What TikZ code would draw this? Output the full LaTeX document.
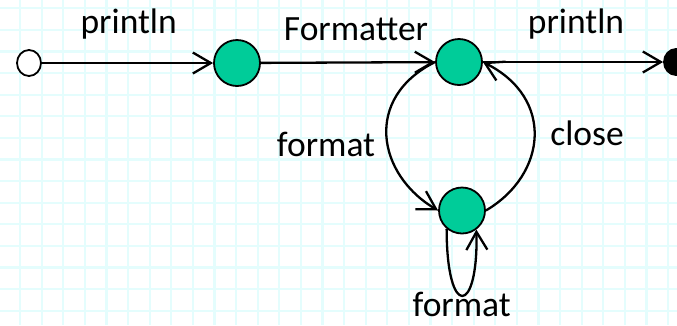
\documentclass[tikz,border=0pt]{standalone}
\usepackage{fontspec}
\setmainfont{Carlito}
\usetikzlibrary{arrows.meta,shapes.geometric}
\definecolor{gridcyan}{RGB}{228,253,253}
\definecolor{statefill}{RGB}{0,204,153}
\begin{document}
\begin{tikzpicture}[x=1pt,y=-1pt,
  gridline/.style={draw=gridcyan,line width=2.2pt},
  state/.style={circle,draw=black,line width=1.8pt,fill=statefill,
    minimum size=46pt,inner sep=0pt},
  terminal/.style={ellipse,draw=black,line width=1.8pt,
    minimum width=24pt,minimum height=26pt,inner sep=0pt},
  trans/.style={line width=2.3pt,-{Straight Barb[length=18pt,width=21pt]}},
  lbl/.style={anchor=base,inner sep=0pt,font=\fontsize{35.5}{42}\selectfont}]
  \useasboundingbox (0,0) rectangle (677,325);
  \begin{scope}
    \clip (0,0) rectangle (677,325);
    \fill[white] (0,0) rectangle (677,325);
    % background grid
    \foreach \gx in {-1.6,20.0,...,690} \draw[gridline] (\gx,0) -- (\gx,325);
    \foreach \gy in {8.3,29.9,...,330} \draw[gridline] (0,\gy) -- (677,\gy);

    % states
    \node[terminal,fill=white] (s) at (29,63) {};
    \node[state] (a) at (237,63) {};
    \node[state] (b) at (459,62) {};
    \node[state] (c) at (462,210.5) {};
    \node[terminal,fill=black] (e) at (676,62) {};

    % transitions
    \draw[trans] (s) -- (a);
    \draw[trans] (a) -- (b);
    \draw[trans] (b) -- (e);
    \draw[trans] (b.west) .. controls +(-72,36) and +(-61,-36) .. (c.west);
    \draw[trans] (c.east) .. controls +(61,-36) and +(72,36) .. (b.east);
    \draw[trans] (c.230) .. controls +(0,91) and +(2,86) .. (c.307);

    % labels
    \node[lbl] (l1) at (128.7,33.3) {println};
    \node[lbl] (l2) at (356,40.7) {Formatter};
    \node[lbl] (l3) at (576,33.3) {println};
    \node[lbl] (l4) at (326,156.7) {format};
    \node[lbl] (l5) at (587,145) {close};
    \node[lbl] (l6) at (461.7,316) {format};
  \end{scope}
\end{tikzpicture}
\end{document}
